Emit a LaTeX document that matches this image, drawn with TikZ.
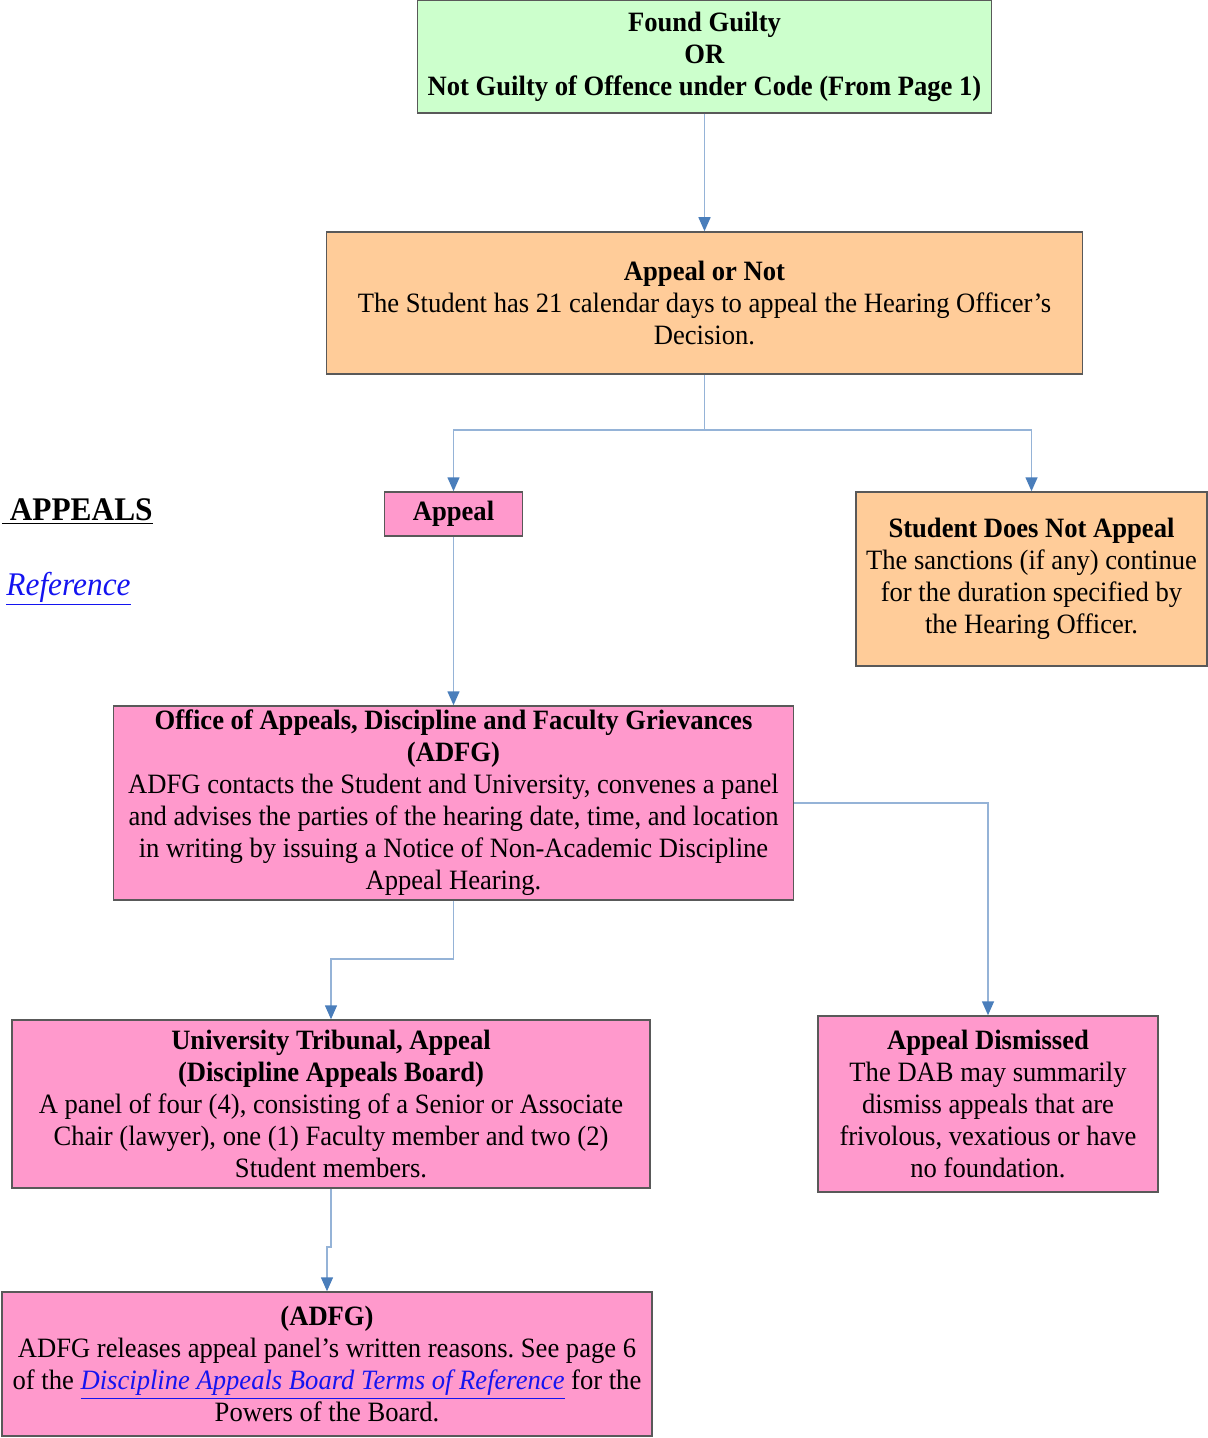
\documentclass[tikz,border=0pt]{standalone}
\usepackage{fontspec}
\setmainfont[FakeStretch=0.95]{Liberation Serif}
\frenchspacing
\usetikzlibrary{arrows.meta}
\definecolor{boxgreen}{HTML}{CCFFCC}
\definecolor{boxorange}{HTML}{FFCC99}
\definecolor{boxpink}{HTML}{FF99CC}
\definecolor{lineblue}{HTML}{95B3D7}
\definecolor{tipblue}{HTML}{4A7EBB}
\definecolor{linkblue}{HTML}{1414F0}
\begin{document}
\begin{tikzpicture}[x=0.5pt,y=-0.5pt,
  box/.style={draw=black!65, line width=0.75pt, align=center, inner sep=0pt, font=\fontsize{14}{16}\selectfont},
  conn/.style={draw=lineblue, line width=0.75pt, -{Triangle[width=6pt,length=7pt,color=tipblue]}}]
\useasboundingbox (0,0) rectangle (1208,1438);
\clip (0,0) rectangle (1208,1438);
\node[anchor=base east, inner sep=0pt, font=\fontsize{16.5}{18}\selectfont\bfseries] (heading) at (153,520) {\underline{\ APPEALS}};
\node[anchor=base east, inner sep=0pt, font=\fontsize{16.5}{18}\selectfont\itshape, text=linkblue] (dabref) at (131,595) {\underline{Reference}};
\node[box, fill=boxgreen, minimum width=287pt, minimum height=56.5pt] (found) at (704.5,56.5) {\textbf{Found Guilty}\\\textbf{OR}\\\textbf{Not Guilty of Offence under Code (From Page 1)}};
\node[box, fill=boxorange, minimum width=378pt, minimum height=71pt] (decide) at (704.5,303) {\textbf{Appeal or Not}\\The Student has 21 calendar days to appeal the Hearing Officer’s\\Decision.};
\node[box, fill=boxpink, minimum width=69pt, minimum height=22pt] (appeal) at (453.5,514) {\textbf{Appeal}};
\node[box, fill=boxorange, minimum width=175.5pt, minimum height=87pt] (noappeal) at (1031.5,579) {\textbf{Student Does Not Appeal}\\The sanctions (if any) continue\\for the duration specified by\\the Hearing Officer.};
\node[box, fill=boxpink, minimum width=340pt, minimum height=97pt] (adfg) at (453.5,803) {\textbf{Office of Appeals, Discipline and Faculty Grievances}\\\textbf{(ADFG)}\\ADFG contacts the Student and University, convenes a panel\\and advises the parties of the hearing date, time, and location\\in writing by issuing a Notice of Non-Academic Discipline\\Appeal Hearing.};
\node[box, fill=boxpink, minimum width=319pt, minimum height=84pt] (tribunal) at (331,1104) {\textbf{University Tribunal, Appeal}\\\textbf{(Discipline Appeals Board)}\\A panel of four (4), consisting of a Senior or Associate\\Chair (lawyer), one (1) Faculty member and two (2)\\Student members.};
\node[box, fill=boxpink, minimum width=170pt, minimum height=88pt] (dismissed) at (988,1104) {\textbf{Appeal Dismissed}\\The DAB may summarily\\dismiss appeals that are\\frivolous, vexatious or have\\no foundation.};
\node[box, fill=boxpink, minimum width=325pt, minimum height=72pt] (reasons) at (327,1364) {\textbf{(ADFG)}\\ADFG releases appeal panel’s written reasons. See page 6\\of the \textcolor{linkblue}{\underline{\textit{Discipline Appeals Board Terms of Reference}}} for the\\Powers of the Board.};
\coordinate (split) at (704.5,430);
\draw[conn] (found) -- (decide);
\draw[conn] (decide.south) -- (split) -| (appeal.north);
\draw[conn] (split) -| (noappeal.north);
\draw[conn] (appeal) -- (adfg);
\draw[conn] (adfg.east) -| (dismissed.north);
\draw[conn] (adfg.south) -- ++(0,58) -| (tribunal.north);
\draw[conn] (tribunal.south) -- ++(0,58) -| (reasons.north);
\end{tikzpicture}
\end{document}
